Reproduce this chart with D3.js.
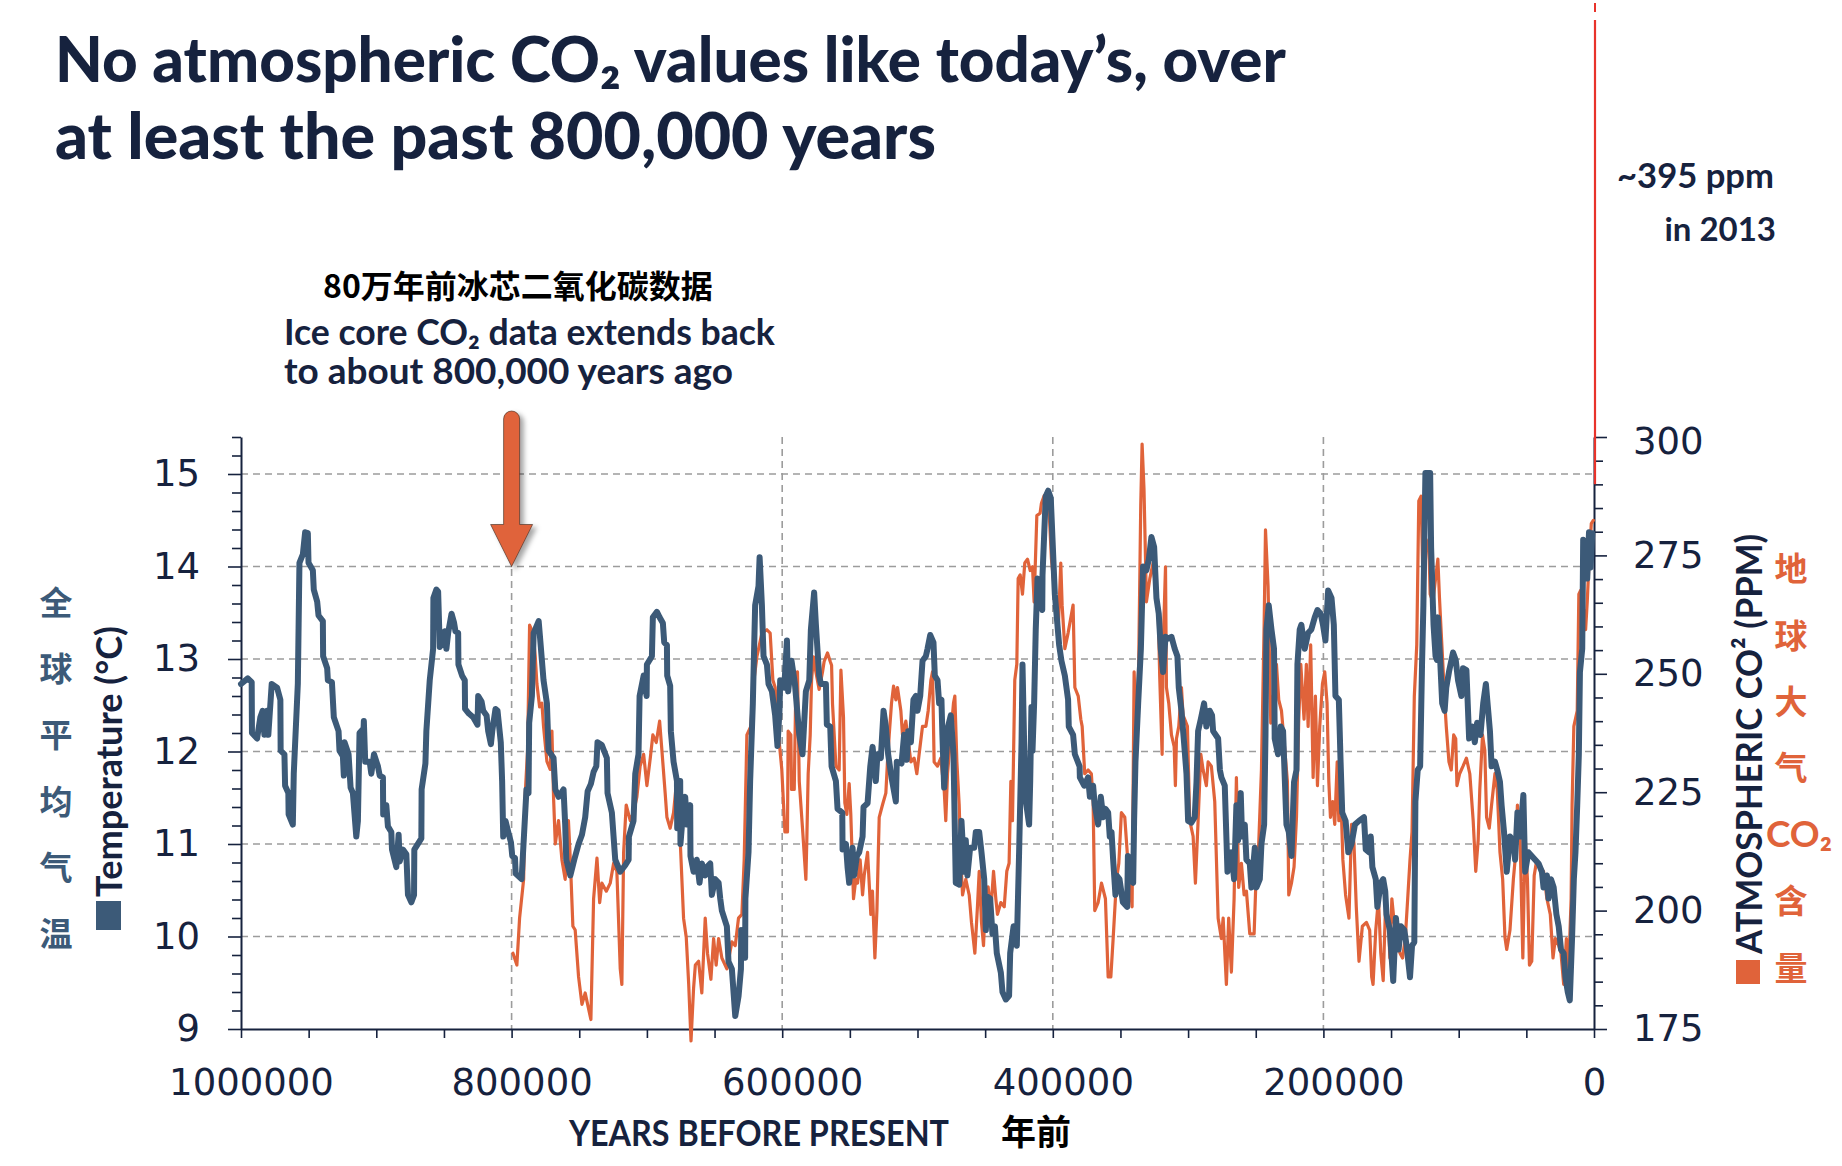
<!DOCTYPE html>
<html><head><meta charset="utf-8">
<script src="https://cdn.jsdelivr.net/npm/d3@7"></script>
<style>html,body{margin:0;padding:0;background:#fff;}svg{display:block;}</style>
</head><body>
<svg id="chart" width="1842" height="1166"></svg>
<script>
// ---------------- DATA ----------------
// Global average temperature (°C), [years before present, value]
const temperature = [
[1000000,12.73],[995000,12.79],[992100,12.75],[991900,12.20],[988100,12.14],[985700,12.37],[984000,12.44],[982700,12.18],[980700,12.44],[979800,12.18],[977300,12.73],[973300,12.69],[970900,12.56],[970700,12.01],[967900,11.97],[967400,11.63],[965000,11.55],[964800,11.32],[961700,11.21],[961000,11.76],[958000,12.73],[956800,14.04],[954300,14.13],[952600,14.37],[950600,14.36],[950100,14.04],[946900,13.96],[946200,13.75],[943700,13.62],[942700,13.47],[939500,13.41],[939300,13.03],[936300,12.90],[935800,12.77],[932800,12.75],[931400,12.37],[927900,12.22],[927200,12.01],[924700,11.95],[924000,11.74],[923500,12.10],[920500,11.97],[919000,11.61],[917300,11.55],[914800,11.08],[913600,11.25],[912400,12.20],[909400,12.25],[909200,12.33],[908200,11.89],[904900,11.89],[903700,11.76],[901700,11.97],[898800,11.84],[897500,11.74],[895100,11.72],[894900,11.32],[892600,11.42],[891400,11.19],[888900,11.13],[888400,10.94],[885200,10.75],[883500,11.10],[882700,10.81],[880300,10.94],[877800,10.89],[876600,10.45],[874100,10.37],[872100,10.45],[871900,10.94],[866700,11.06],[866500,11.59],[863700,11.87],[863000,12.22],[860500,12.77],[858000,13.11],[857800,13.66],[855600,13.75],[854300,13.73],[853100,13.13],[850600,13.18],[849400,13.30],[848200,13.11],[846900,13.28],[844400,13.49],[842500,13.39],[841500,13.30],[839500,13.28],[839300,12.94],[836600,12.82],[834600,12.77],[834400,12.46],[831600,12.41],[828400,12.37],[825200,12.29],[824700,12.60],[822200,12.54],[821000,12.44],[818500,12.39],[817300,12.22],[815300,12.08],[814300,12.22],[811900,12.46],[810400,12.44],[808000,12.10],[807000,11.68],[806200,11.08],[804500,11.25],[802500,11.13],[800500,11.02],[799500,10.87],[797500,10.85],[797000,10.68],[792600,10.62],
[789000,11.59],[787500,11.55],[787000,12.31],[785000,12.60],[783700,13.28],[780000,13.41],[778800,13.20],[776400,12.77],[773900,12.52],[772700,12.01],[769000,11.93],[767700,11.59],[765300,11.51],[761600,11.59],[760400,11.21],[759600,10.83],[756600,10.66],[753700,10.83],[750500,11.00],[748000,11.10],[745600,11.29],[743800,11.57],[741400,11.65],[739400,11.78],[737400,11.84],[736500,12.10],[733300,12.07],[729600,11.93],[729100,11.55],[725900,11.34],[723400,10.83],[719700,10.70],[716000,10.77],[713500,10.83],[713300,11.08],[709900,11.25],[708600,11.76],[706200,11.97],[705400,12.60],[702400,12.82],[700200,12.60],[700000,12.94],[696300,13.03],[695600,13.45],[692600,13.51],[690600,13.45],[688200,13.39],[687200,13.18],[685200,13.15],[685000,12.82],[682800,12.71],[682300,12.22],[680300,11.89],[677800,11.68],[677600,11.17],[675400,11.68],[675200,11.00],[672900,11.42],[671700,11.51],[670400,11.21],[668000,11.42],[667800,10.87],[665500,10.70],[663100,10.83],[661100,10.58],[659400,10.79],[656900,10.66],[655700,10.75],[653200,10.79],[652000,10.45],[649500,10.62],[647000,10.58],[645800,10.41],[644600,10.28],[640900,10.11],[639700,9.73],[637200,9.65],[634700,9.14],[632300,9.35],[630500,9.65],[630300,10.07],[627400,9.77],[627200,10.41],[624900,10.91],[623700,11.68],[621700,12.52],[620000,13.58],[617500,13.79],[616700,14.10],[615000,13.58],[613800,13.03],[611300,12.94],[610100,12.73],[607600,12.65],[605200,12.39],[603500,12.06],[602000,12.44],[601500,12.77],[598500,12.69],[596500,13.20],
[595600,12.65],[593100,12.98],[590600,12.73],[587400,12.18],[585000,11.97],[582500,12.65],[580000,12.77],[578800,13.32],[576400,13.72],[575100,13.37],[572700,12.82],[571400,12.73],[567700,12.73],[567000,12.29],[564500,12.27],[563500,11.84],[560300,11.68],[559100,11.38],[555600,11.34],[555400,10.94],[552900,11.00],[551700,10.75],[550500,10.58],[548000,10.96],[546800,10.66],[544800,10.87],[543100,10.91],[540600,11.08],[539900,11.40],[536900,11.44],[534900,11.84],[533200,12.05],[530800,11.68],[529600,11.97],[527100,11.93],[525100,12.44],[523400,12.27],[521700,11.97],[519200,11.72],[516000,11.46],[515300,11.89],[511800,11.87],[509900,12.18],[507900,11.91],[506900,12.22],[504900,12.10],[503000,12.56],[501200,12.60],[500000,12.44],[498000,12.60],[496300,12.98],[493800,13.03],[492600,13.11],[490600,13.26],[488200,13.18],[487200,12.82],[485200,12.77],[484000,12.52],[482300,12.56],[481600,12.18],[480300,11.61],[479100,11.89],[477400,12.27],[475400,12.39],[473400,11.97],[471700,10.58],[469200,10.56],[467500,11.25],[465500,10.70],[464300,11.04],[463100,10.66],[461100,10.96],[458100,10.96],[456900,11.13],[454400,11.13],[452700,10.91],[450700,10.62],[449500,10.07],[448300,10.43],[446300,10.41],[444600,10.03],[442800,10.11],[441400,9.82],[438400,9.61],[437200,9.40],[434700,9.32],[432300,9.36],[431500,9.82],[429000,10.11],[426600,9.90],[424900,10.91],[423100,12.10],[422400,12.94],[421200,12.10],[419900,11.46],[417500,11.21],[416700,11.68],[415800,12.48],[415000,12.01],[413800,12.52],[412600,13.32],[411300,13.87],[409400,13.62],[407800,13.53],[407600,13.91],[405200,14.76],[403400,14.82],[401500,14.74],[400200,14.29],[398500,13.70],[395300,13.15],[393600,12.98],
[391100,12.82],[388700,12.56],[388200,12.27],[385000,12.18],[383700,11.97],[380200,11.84],[380000,11.72],[376800,11.63],[373900,11.72],[372600,11.51],[370200,11.63],[369000,11.42],[366500,11.21],[364500,11.51],[362800,11.29],[361100,11.38],[359100,11.34],[357900,11.08],[356600,11.13],[355400,10.83],[353700,10.45],[352900,10.66],[350700,10.62],[348200,10.37],[345000,10.32],[344500,10.87],[342600,10.62],[340600,10.58],[339900,11.25],[338900,11.89],[336900,12.52],[334900,13.11],[333300,14.00],[330800,13.96],[329000,14.08],[327100,14.32],[325100,14.21],[323400,13.66],[321700,13.49],[320200,13.11],[318500,12.86],[316700,13.24],[314800,13.22],[312300,13.24],[309900,13.11],[307900,13.03],[306900,12.69],[304900,12.44],[303000,12.10],[301200,11.76],[300000,11.25],[297600,11.23],[295100,11.29],[293800,11.67],[292600,12.22],[290600,12.35],[288200,12.52],[286500,12.27],[284000,12.44],[282300,12.39],[281500,12.22],[277800,12.14],[276500,11.80],[275400,11.72],[272900,11.63],[270900,10.70],[268000,10.91],[266000,10.62],[264300,11.42],[263100,11.04],[261100,11.55],[260100,11.08],[258100,11.21],[256900,10.83],[254400,10.79],[253200,10.53],[250700,10.96],[249500,10.53],[247000,10.62],[245800,11.00],[243800,11.21],[242800,12.18],[242100,13.32],[240400,13.58],[238400,13.32],[236500,13.11],[236000,12.14],[233500,11.97],[231500,12.27],[229800,12.22],[229000,11.89],[227300,11.21],[225600,11.13],[223600,10.87],[221700,11.67],[219900,11.80],[219200,12.94],[217500,13.32],[216300,13.37],[213800,13.11],[211300,13.28],[208900,13.32],[206400,13.45],[204400,13.53],[202000,13.49],[200300,13.37],[198500,13.20],
[196500,13.74],[194000,13.66],[192300,13.37],[191100,12.60],[188600,12.56],[187300,11.89],[186100,11.34],[183600,11.25],[181600,10.91],[179200,11.00],[176700,11.21],[173700,11.25],[170000,11.29],[168700,10.94],[166300,10.91],[165000,11.08],[163800,10.75],[161300,10.62],[160100,10.32],[157600,10.58],[155800,10.62],[154300,10.49],[153400,10.24],[150900,10.07],[148400,9.52],[146400,10.20],[144400,9.86],[142700,10.11],[140200,10.07],[138500,9.90],[136000,9.56],[134500,9.90],[132800,9.94],[132000,11.46],[130300,11.80],[128500,11.84],[127100,12.94],[126100,13.58],[124600,15.01],[121100,15.01],[120400,14.21],[118600,13.37],[117100,13.03],[116100,12.99],[115400,13.45],[113700,12.99],[112200,12.52],[110400,12.44],[109200,12.69],[107200,12.86],[104200,13.07],[102200,12.99],[100500,12.77],[98000,12.60],[96800,12.90],[94300,12.88],[92300,12.14],[89800,12.27],[88100,12.10],[86400,12.31],[83900,12.18],[81900,12.52],[79900,12.73],[78200,12.44],[76900,12.22],[75700,11.84],[73200,11.89],[71500,11.80],[69500,11.67],[68300,11.42],[66500,11.13],[64500,10.70],[62100,11.08],[59600,11.04],[58300,10.83],[56600,11.34],[54600,11.08],[52200,11.53],[50900,10.70],[48500,10.91],[46000,10.87],[43500,10.83],[41000,10.79],[38500,10.70],[37300,10.53],[34800,10.66],[33600,10.41],[31800,10.62],[29800,10.53],[27800,10.24],[26100,10.11],[24400,9.86],[22400,9.82],[21100,9.56],[19400,9.40],[17900,9.31],[16200,9.99],[14900,10.62],[13700,10.91],[12400,11.42],[11200,11.97],[10400,12.86],[8700,13.11],[8000,14.29],[6200,14.25],[5000,13.87],[3700,14.37],[2500,13.99],[1300,14.36]
];

// Atmospheric CO2 (ppm), [years before present, value]
const co2 = [
[799000,191.0],[796100,188.5],[794100,198.4],[791100,206.6],[789900,224.8],[788200,233.8],[786700,260.3],[784200,258.6],[782500,253.6],[781300,247.9],[779300,243.0],[777600,243.8],[776400,238.9],[773900,231.5],[771500,229.8],[770200,237.9],[769000,224.0],[767700,214.1],[765300,219.0],[762800,210.7],[760400,206.6],[758000,219.0],[756600,210.7],[754700,196.7],[753000,195.9],[750500,186.0],[748000,180.2],[745600,182.6],[743800,180.2],[741400,177.0],[739400,202.5],[736900,211.1],[734900,201.7],[733300,205.8],[730000,204.1],[727100,205.8],[724600,210.0],[722200,208.3],[719700,187.7],[718500,184.4],[717200,212.3],[715300,222.3],[712300,219.0],[709900,220.7],[707400,224.0],[705000,230.5],[702400,233.0],[700000,226.4],[697500,232.2],[695600,237.1],[693100,235.5],[690600,240.0],[688900,233.8],[686500,224.8],[685200,219.7],[682800,217.4],[680300,220.7],[677800,228.1],[675400,214.9],[672900,198.4],[670900,194.3],[669100,184.4],[667400,172.5],[665500,183.6],[664200,188.5],[661800,189.3],[659400,182.6],[656900,198.4],[655200,191.0],[652700,185.5],[650700,194.1],[648800,188.5],[647000,194.1],[644600,190.0],[640900,187.7],[637200,193.4],[634700,192.6],[632300,198.4],[629800,199.2],[628100,210.7],[626100,237.1],[623200,238.9],[621200,247.9],[618700,253.6],[615000,258.6],[611300,259.3],[608900,258.6],[606900,248.7],[605200,247.1],[602700,237.1],[600300,229.8],
[598000,216.6],[596100,216.6],[595600,237.9],[593600,237.1],[593100,225.6],[591100,225.6],[589900,247.9],[588700,250.4],[587400,227.3],[585000,217.4],[582500,206.6],[581800,214.9],[580800,228.9],[579300,237.1],[578300,248.7],[576800,253.6],[575100,250.4],[572700,246.7],[570200,250.4],[569000,252.6],[566500,254.4],[564500,252.6],[563500,251.8],[562800,243.6],[560300,230.5],[557900,229.7],[556600,250.8],[554700,240.8],[553700,222.7],[552200,220.3],[550500,226.8],[549300,220.3],[547300,202.5],[545600,206.6],[544300,205.8],[542400,210.7],[540600,203.3],[539400,207.4],[536900,212.3],[534500,199.2],[533300,204.1],[531500,190.0],[530000,200.0],[529100,210.7],[528300,219.7],[525900,222.3],[523400,224.8],[522200,231.4],[520900,237.1],[519200,243.8],[517700,247.4],[516000,244.5],[514800,247.1],[512300,242.2],[511100,237.1],[508600,240.0],[507400,237.1],[504900,231.4],[502500,232.2],[500500,228.9],[498800,233.0],[496300,238.9],[493800,238.9],[492100,242.2],[490100,248.7],[488900,250.4],[487700,231.4],[485200,230.5],[482800,232.2],[481600,228.9],[480300,225.6],[479100,219.0],[477800,228.9],[475400,237.1],[473400,243.8],[472400,245.3],[470900,231.4],[469200,222.4],[468000,210.7],[466700,203.3],[464300,206.6],[461800,203.3],[460100,197.5],[457600,191.0],[455700,200.8],[454400,208.3],[452700,197.5],[451200,192.6],[449500,204.1],[447800,205.0],[445800,200.0],[443800,208.3],[442100,202.5],[440900,199.2],[438400,201.7],[435900,200.8],[434000,208.3],[432300,210.0],[431000,227.3],[429800,219.0],[428100,248.7],[426600,252.0],[425600,270.1],[424100,270.9],[422400,266.8],[420700,273.4],[418700,274.2],[416700,271.8],[415000,272.6],[413800,265.2],[411800,283.4],[409400,283.9],[408400,286.0],[406400,287.6],[403400,288.3],
[401000,274.2],[398500,266.8],[396100,258.6],[394100,273.4],[393100,264.5],[391100,255.3],[388700,258.6],[385000,264.5],[383700,247.1],[381200,245.3],[379300,240.4],[378300,238.9],[376400,228.9],[373900,229.7],[371500,228.9],[370200,223.0],[369000,200.0],[366500,201.7],[364000,205.8],[361100,202.5],[359100,186.0],[357100,186.0],[355400,194.1],[352900,206.6],[351200,210.0],[349300,220.7],[346800,219.7],[344800,211.5],[343100,206.6],[341400,200.8],[339900,250.4],[338200,235.5],[336500,252.6],[335000,285.6],[334000,298.5],[332600,289.0],[330800,265.2],[328300,270.1],[325900,273.4],[324200,268.5],[322200,264.5],[321000,249.6],[319200,233.0],[318500,255.3],[316700,272.6],[316000,247.1],[314300,243.8],[312300,237.1],[310300,234.6],[309400,226.4],[308600,236.3],[306900,238.9],[304900,247.1],[303700,241.2],[302500,240.4],[300500,238.9],[298800,219.0],[296300,215.7],[294600,205.8],[292600,219.0],[290600,233.0],[288900,229.7],[286500,226.4],[285200,231.4],[282800,230.5],[280300,223.0],[277800,198.4],[275400,194.1],[274100,198.4],[271700,184.4],[270000,198.4],[268000,187.0],[266000,202.5],[264300,228.1],[262600,204.9],[260600,210.0],[258600,203.3],[256900,204.1],[254400,195.1],[251200,195.1],[249500,209.2],[247800,214.1],[245800,229.7],[243800,260.3],[242800,280.4],[240900,268.5],[238900,239.6],[237200,244.5],[234700,252.0],[233000,244.5],[231000,242.2],[229000,235.5],[226600,227.3],[225600,203.3],[223600,205.8],[221700,209.2],[219900,219.7],[218200,240.4],[216700,252.0],[214300,240.4],[212600,252.0],[211300,238.9],[209400,256.1],[207600,228.1],[205900,245.3],[204400,226.4],[202700,238.9],[200700,247.9],
[199000,250.4],[197300,243.8],[196000,227.3],[194800,219.7],[193100,223.0],[191600,218.2],[189800,231.4],[188600,219.0],[186600,219.7],[185600,210.7],[183600,203.3],[181100,198.4],[179200,218.2],[177400,214.1],[175700,200.8],[173700,189.3],[171200,196.7],[168200,197.5],[165800,195.9],[164300,186.0],[163300,184.4],[161300,195.9],[159300,202.5],[157600,191.0],[155800,185.2],[153900,202.5],[151900,197.5],[150900,190.0],[149400,202.5],[147700,197.5],[145200,194.1],[143400,191.0],[141500,190.0],[139500,194.1],[137700,202.5],[136000,210.7],[134500,216.6],[132800,245.3],[131000,256.1],[129500,286.5],[127800,287.5],[126100,265.2],[124100,276.8],[122100,278.3],[121100,266.8],[119100,265.2],[117100,270.1],[115400,274.2],[114200,266.0],[112900,258.6],[111700,252.0],[110400,244.5],[109200,238.9],[107200,231.4],[105500,229.7],[103700,237.1],[102200,236.3],[101300,226.4],[99300,228.9],[96800,230.5],[94300,232.2],[91800,228.9],[89300,219.0],[87400,208.3],[85600,214.9],[84400,225.6],[82400,237.1],[80700,233.8],[79400,219.7],[77400,217.4],[75700,222.3],[73200,228.9],[71500,225.6],[69500,212.3],[67500,206.6],[65800,194.3],[64500,191.8],[62100,195.9],[59600,206.6],[58300,210.7],[56600,222.3],[54600,214.9],[52600,190.0],[50900,215.7],[49200,206.6],[47700,188.5],[46000,189.3],[44200,207.4],[42700,210.0],[40200,209.2],[37300,208.3],[34800,202.5],[32300,199.2],[30300,190.0],[28600,194.1],[26100,192.6],[24400,191.0],[22400,184.4],[20400,194.1],[18700,187.7],[16900,202.5],[16200,222.3],[14900,238.9],[12400,242.2],[11200,266.8],[9900,267.6],[8700,259.3],[7400,263.4],[6200,259.3],[5000,265.2],[3700,273.4],[2000,281.7],[500,282.4]
];

const xTickValues = [1000000,950000,900000,850000,800000,750000,700000,650000,600000,550000,500000,450000,400000,350000,300000,250000,200000,150000,100000,50000,0];
const xLabelValues = [1000000, 800000, 600000, 400000, 200000, 0];
const xGridValues = [800000, 600000, 400000, 200000];
const tempLabelValues = [9, 10, 11, 12, 13, 14, 15];
const tempGridValues = [10, 11, 12, 13, 14, 15];
const co2LabelValues = [175, 200, 225, 250, 275, 300];
const modernCO2 = 290;          // where the modern (red) line meets the right axis
const arrowYear = 800000;        // start of ice-core CO2 record
const arrowTipTemp = 14;

const titleLines = ["No atmospheric CO\u2082 values like today\u2019s, over", "at least the past 800,000 years"];
const noteLines = ["80万年前冰芯二氧化碳数据", "Ice core CO\u2082 data extends back", "to about 800,000 years ago"];
const leftZh = ["全","球","平","均","气","温"];
const rightZh = ["地","球","大","气","CO\u2082","含","量"];

// ---------------- STYLE ----------------
const NAVY = "#16223e", BLUE = "#3c5a78", ORANGE = "#e0633a", RED = "#e8332b", GRID = "#9c9c9c";
const svg = d3.select("#chart");
const x = d3.scaleLinear().domain([1000000, 0]).range([241, 1594]);
const yT = d3.scaleLinear().domain([9, 15.4]).range([1029, 437]);
const yC = d3.scaleLinear().domain([175, 300]).range([1029, 437]);

function fit(sel, w) {
  const cur = sel.node().getComputedTextLength();
  const fs = parseFloat(sel.attr("font-size"));
  sel.attr("font-size", fs * w / cur);
  return sel;
}

// defs: drop shadow
const defs = svg.append("defs");
const f = defs.append("filter").attr("id","shadow").attr("x","-50%").attr("y","-20%").attr("width","200%").attr("height","150%");
f.append("feDropShadow").attr("dx",4).attr("dy",3).attr("stdDeviation",2.5).attr("flood-color","#000").attr("flood-opacity",0.35);

// ---------------- TITLE ----------------
fit(svg.append("text").attr("x",55).attr("y",82).attr("font-family","Lato, sans-serif").attr("font-weight",900).attr("font-size",60).attr("fill",NAVY).text(titleLines[0]), 1231);
fit(svg.append("text").attr("x",55).attr("y",159).attr("font-family","Lato, sans-serif").attr("font-weight",900).attr("font-size",60).attr("fill",NAVY).text(titleLines[1]), 881);

// modern annotation
fit(svg.append("text").attr("x",1617).attr("y",188).attr("font-family","Lato, sans-serif").attr("font-weight",700).attr("font-size",33).attr("fill",NAVY).text("~395 ppm"),157);
svg.append("text").attr("x",1776).attr("y",241).attr("text-anchor","end").attr("font-family","Lato, sans-serif").attr("font-weight",700).attr("font-size",33).attr("fill",NAVY).text("in 2013");

// ice core annotation
fit(svg.append("text").attr("x",323).attr("y",298).attr("font-family","'Noto Sans CJK SC', sans-serif").attr("font-weight",700).attr("font-size",31).attr("fill","#000").text(noteLines[0]),390);
fit(svg.append("text").attr("x",284).attr("y",345).attr("font-family","Lato, sans-serif").attr("font-weight",700).attr("font-size",34).attr("fill",NAVY).text(noteLines[1]),491);
fit(svg.append("text").attr("x",284).attr("y",384).attr("font-family","Lato, sans-serif").attr("font-weight",700).attr("font-size",34).attr("fill",NAVY).text(noteLines[2]),449);

// ---------------- GRID ----------------
const grid = svg.append("g");
grid.selectAll("line.h").data(tempGridValues).join("line")
  .attr("x1", x(1000000)).attr("x2", x(0)).attr("y1", d=>yT(d)).attr("y2", d=>yT(d))
  .attr("stroke", GRID).attr("stroke-width",1.6).attr("stroke-dasharray","7,5");
grid.selectAll("line.v").data(xGridValues).join("line")
  .attr("x1", d=>x(d)).attr("x2", d=>x(d)).attr("y1", yT(15.4)).attr("y2", yT(9))
  .attr("stroke", GRID).attr("stroke-width",1.6).attr("stroke-dasharray","7,5");

// ---------------- AXES ----------------
const isInt = v => Math.abs(v - Math.round(v)) < 1e-6;
const tempMinor = d3.range(0, 33).map(i => +(9 + i*0.2).toFixed(1));
const gL = svg.append("g").attr("transform",`translate(${x(1000000)},0)`)
  .call(d3.axisLeft(yT).tickValues(tempMinor).tickSize(9).tickSizeOuter(0).tickPadding(32)
    .tickFormat(d => tempLabelValues.includes(d) ? d : ""));
gL.selectAll(".tick line").attr("x2", d => isInt(d) ? -13 : -9);

const co2Minor = d3.range(175, 301, 5);
const gR = svg.append("g").attr("transform",`translate(${x(0)},0)`)
  .call(d3.axisRight(yC).tickValues(co2Minor).tickSize(9).tickSizeOuter(0).tickPadding(30)
    .tickFormat(d => co2LabelValues.includes(d) ? d : ""));
gR.selectAll(".tick line").attr("x2", d => d % 25 === 0 ? 13 : 9);
gR.selectAll(".tick text").attr("dy", d => d === 300 ? "0.44em" : "0.32em");

const gB = svg.append("g").attr("transform",`translate(0,${yT(9)})`)
  .call(d3.axisBottom(x).tickValues(xTickValues).tickSize(9).tickSizeOuter(0).tickPadding(31)
    .tickFormat(d => xLabelValues.includes(d) ? d : ""));
gB.selectAll(".tick text").attr("dx", d => d === 0 ? 0 : 10);

[gL, gR, gB].forEach(g => {
  g.select(".domain").attr("stroke", NAVY).attr("stroke-width", 2);
  g.selectAll(".tick line").attr("stroke", NAVY).attr("stroke-width", 1.6);
  g.selectAll(".tick text").attr("fill", NAVY).attr("font-family","'DejaVu Sans', sans-serif").attr("font-size",37);
});

// ---------------- SERIES ----------------
const lineC = d3.line().x(d=>x(d[0])).y(d=>yC(d[1]));
const lineT = d3.line().x(d=>x(d[0])).y(d=>yT(d[1]));
svg.append("path").datum(co2).attr("d", lineC).attr("fill","none").attr("stroke",ORANGE).attr("stroke-width",3.2).attr("stroke-linejoin","round").attr("stroke-linecap","round");
svg.append("path").datum(temperature).attr("d", lineT).attr("fill","none").attr("stroke",BLUE).attr("stroke-width",6).attr("stroke-linejoin","round").attr("stroke-linecap","round");

// modern CO2 red line
const rx = x(0) + 1;
svg.append("line").attr("x1",rx).attr("x2",rx).attr("y1",3).attr("y2",12).attr("stroke",RED).attr("stroke-width",2);
svg.append("line").attr("x1",rx).attr("x2",rx).attr("y1",20).attr("y2",yC(modernCO2)).attr("stroke",RED).attr("stroke-width",2.2);

// arrow
const ax = x(arrowYear), tip = yT(arrowTipTemp);
const arrowPath = `M${ax-8},${tip-42} L${ax-8},${411+8} A8,8 0 0 1 ${ax+8},${411+8} L${ax+8},${tip-42} L${ax+21},${tip-42} L${ax},${tip} L${ax-21},${tip-42} Z`;
svg.append("path").attr("d", arrowPath).attr("fill", ORANGE).attr("stroke","#3a2a20").attr("stroke-width",0.6).attr("filter","url(#shadow)");

// ---------------- AXIS TITLES ----------------
// left Chinese
svg.selectAll("text.lzh").data(leftZh).join("text")
  .attr("x",56).attr("y",(d,i)=>601 + i*66.2).attr("text-anchor","middle").attr("dominant-baseline","central")
  .attr("font-family","'Noto Sans CJK SC', sans-serif").attr("font-weight",700).attr("font-size",33).attr("fill",BLUE).text(d=>d);
// left English rotated
svg.append("rect").attr("x",96).attr("y",901).attr("width",25).attr("height",29).attr("fill",BLUE);
svg.append("text").attr("transform","translate(122,897) rotate(-90)").attr("font-family","Lato, sans-serif").attr("font-weight",700)
  .attr("font-size",36).attr("fill",NAVY).attr("textLength",271).attr("lengthAdjust","spacingAndGlyphs").text("Temperature (\u00B0C)");
// right English rotated
svg.append("rect").attr("x",1736).attr("y",960).attr("width",24).attr("height",24).attr("fill",ORANGE);
svg.append("text").attr("transform","translate(1762,954) rotate(-90)").attr("font-family","Lato, sans-serif").attr("font-weight",700)
  .attr("font-size",37).attr("fill",NAVY).attr("textLength",420).attr("lengthAdjust","spacingAndGlyphs").text("ATMOSPHERIC CO\u00B2 (PPM)");
// right Chinese
const rzY = [567, 634, 700, 766, 832, 899, 966];
rightZh.forEach((c,i) => {
  const isLatin = c.startsWith("CO");
  svg.append("text").attr("x", isLatin ? 1799 : 1791).attr("y",rzY[i]).attr("text-anchor","middle").attr("dominant-baseline","central")
    .attr("font-family", isLatin ? "Lato, sans-serif" : "'Noto Sans CJK SC', sans-serif").attr("font-weight",700)
    .attr("font-size", isLatin ? 37 : 33).attr("fill",ORANGE).text(c);
});
// bottom
svg.append("text").attr("x",569).attr("y",1146).attr("font-family","Lato, sans-serif").attr("font-weight",700).attr("font-size",37)
  .attr("fill",NAVY).attr("textLength",380).attr("lengthAdjust","spacingAndGlyphs").text("YEARS BEFORE PRESENT");
svg.append("text").attr("x",1001).attr("y",1145).attr("font-family","'Noto Sans CJK SC', sans-serif").attr("font-weight",700).attr("font-size",35)
  .attr("fill","#000").text("年前");
</script>
</body></html>
